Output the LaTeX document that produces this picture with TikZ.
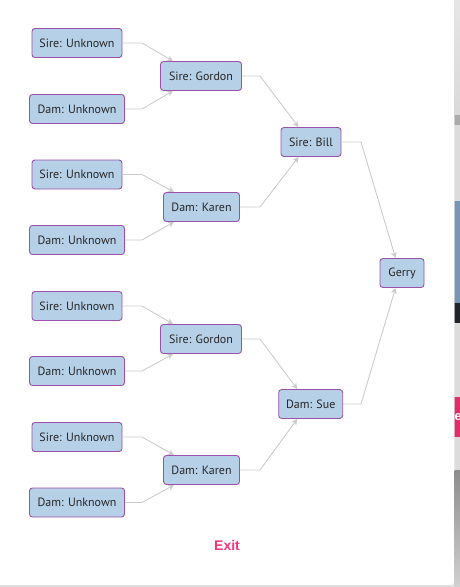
\documentclass[tikz,border=0pt]{standalone}
\usepackage{fontspec}
\newfontfamily\nodefont{PT Sans}
\newfontfamily\exitfont{Liberation Sans}
\usetikzlibrary{arrows.meta}
\definecolor{nodefill}{HTML}{B6D0E8}
\definecolor{nodeborder}{HTML}{9B50AA}
\definecolor{edgegray}{HTML}{CCCCCC}
\definecolor{exitpink}{HTML}{F5347F}
\definecolor{stripgray}{HTML}{DCDCDC}
\definecolor{stripblue}{HTML}{7896B4}
\definecolor{strippink}{HTML}{DE2F6B}
\tikzset{
  person/.style={draw=nodeborder, fill=nodefill, line width=0.9pt, rounded corners=3pt,
    minimum height=29pt, inner sep=0pt, font=\nodefont\fontsize{12pt}{14pt}\selectfont, text=black!85},
  link/.style={draw=edgegray, line width=0.9pt, -{Stealth[length=6pt,width=6pt]}}
}
\begin{document}
\begin{tikzpicture}[x=1pt,y=-1pt]
\useasboundingbox (0,0) rectangle (460,587);
% page background
\fill[stripgray] (0,0) rectangle (460,587);
\fill[white!90!black] (452,0) rectangle (455,587);
\fill[white, rounded corners=3pt] (-5,-5) rectangle (454,585);
% background strip at right edge
\begin{scope}
\clip (454.5,0) rectangle (460,587);
\shade[top color=white!90!black, bottom color=white!85!black] (454,0) rectangle (460,115);
\fill[white!67!black] (454,115) rectangle (460,125);
\fill[stripblue] (454,201) rectangle (460,303);
\fill[black!75!stripblue] (454,303) rectangle (460,323);
\fill[strippink] (454,397) rectangle (460,437);
\node[anchor=west, text=white, inner sep=0pt, font=\exitfont\bfseries\fontsize{13pt}{15pt}\selectfont] (estub) at (454.5,417) {e};
\shade[top color=black!45, bottom color=black!18] (454,470) rectangle (460,587);
\end{scope}

% generation 1 (left column)
\node[person, minimum width=90pt] (su1) at (77,43) {Sire: Unknown};
\node[person, minimum width=95pt] (du1) at (77,109) {Dam: Unknown};
\node[person, minimum width=90pt] (su2) at (77,174.5) {Sire: Unknown};
\node[person, minimum width=95pt] (du2) at (77,240) {Dam: Unknown};
\node[person, minimum width=90pt] (su3) at (77,306) {Sire: Unknown};
\node[person, minimum width=95pt] (du3) at (77,371) {Dam: Unknown};
\node[person, minimum width=90pt] (su4) at (77,437) {Sire: Unknown};
\node[person, minimum width=95pt] (du4) at (77,502.5) {Dam: Unknown};
% generation 2
\node[person, minimum width=81pt] (gor1) at (201,76) {Sire: Gordon};
\node[person, minimum width=76pt] (kar1) at (201.5,207) {Dam: Karen};
\node[person, minimum width=81pt] (gor2) at (201,339) {Sire: Gordon};
\node[person, minimum width=76pt] (kar2) at (201.5,470) {Dam: Karen};
% generation 3
\node[person, minimum width=60pt] (bill) at (311,142) {Sire: Bill};
\node[person, minimum width=64pt] (sue) at (310.7,404) {Dam: Sue};
% generation 4
\node[person, minimum width=44pt] (gerry) at (402,273) {Gerry};

% exit label
\node[text=exitpink, font=\exitfont\bfseries\fontsize{14pt}{16pt}\selectfont] (exit) at (227,545) {Exit};

% bend coordinates
\coordinate (b1) at (142,0);
\coordinate (b2) at (260,0);
\coordinate (b3) at (361,0);

% connectors
\draw[link] (su1.east) -- (su1.east -| b1) -- ([xshift=13pt]gor1.north west);
\draw[link] (du1.east) -- (du1.east -| b1) -- ([xshift=13pt]gor1.south west);
\draw[link] (su2.east) -- (su2.east -| b1) -- ([xshift=11pt]kar1.north west);
\draw[link] (du2.east) -- (du2.east -| b1) -- ([xshift=11pt]kar1.south west);
\draw[link] (su3.east) -- (su3.east -| b1) -- ([xshift=13pt]gor2.north west);
\draw[link] (du3.east) -- (du3.east -| b1) -- ([xshift=13pt]gor2.south west);
\draw[link] (su4.east) -- (su4.east -| b1) -- ([xshift=11pt]kar2.north west);
\draw[link] (du4.east) -- (du4.east -| b1) -- ([xshift=11pt]kar2.south west);

\draw[link] (gor1.east) -- (gor1.east -| b2) -- ([xshift=18pt]bill.north west);
\draw[link] (kar1.east) -- (kar1.east -| b2) -- ([xshift=18pt]bill.south west);
\draw[link] (gor2.east) -- (gor2.east -| b2) -- ([xshift=19pt]sue.north west);
\draw[link] (kar2.east) -- (kar2.east -| b2) -- ([xshift=19pt]sue.south west);

\draw[link] (bill.east) -- (bill.east -| b3) -- ([xshift=16pt]gerry.north west);
\draw[link] (sue.east) -- (sue.east -| b3) -- ([xshift=16pt]gerry.south west);
\end{tikzpicture}
\end{document}
